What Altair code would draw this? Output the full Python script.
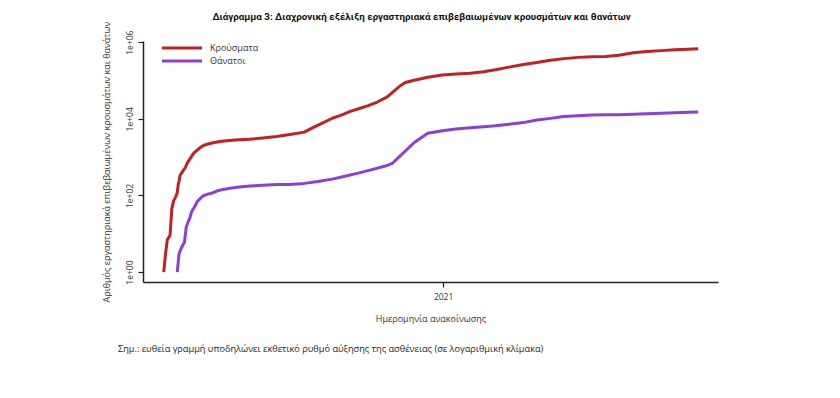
import altair as alt
import pandas as pd

# ---- data ----
case_dates = ["2020-02-26", "2020-02-28", "2020-03-01", "2020-03-04", "2020-03-06", "2020-03-08",
              "2020-03-10", "2020-03-12", "2020-03-13", "2020-03-14", "2020-03-15", "2020-03-17",
              "2020-03-19", "2020-03-21", "2020-03-23", "2020-03-25", "2020-03-27", "2020-03-29",
              "2020-03-31", "2020-04-05", "2020-04-10", "2020-04-15", "2020-04-22", "2020-04-30",
              "2020-05-15", "2020-05-31", "2020-06-15", "2020-06-30", "2020-07-15", "2020-07-31",
              "2020-08-10", "2020-08-20", "2020-08-31", "2020-09-10", "2020-09-20", "2020-09-30",
              "2020-10-10", "2020-10-20", "2020-10-31", "2020-11-05", "2020-11-10", "2020-11-15",
              "2020-11-20", "2020-11-30", "2020-12-15", "2020-12-31", "2021-01-15", "2021-01-31",
              "2021-02-15", "2021-02-28", "2021-03-15", "2021-03-31", "2021-04-15", "2021-04-30",
              "2021-05-15", "2021-05-31", "2021-06-15", "2021-06-30", "2021-07-15", "2021-07-31",
              "2021-08-15", "2021-08-31", "2021-09-15", "2021-09-30", "2021-10-11"]
case_values = [1, 3, 7, 9, 45, 73,
               89, 117, 190, 228, 331, 387,
               464, 530, 695, 821, 966, 1156,
               1314, 1673, 2011, 2192, 2401, 2591,
               2788, 2917, 3148, 3432, 3910, 4477,
               5942, 7684, 10317, 12452, 15595, 18475,
               21947, 27334, 37196, 46892, 59000, 74205,
               88000, 101287, 121031, 138850, 147000, 154796,
               169000, 190000, 223000, 260000, 295000, 338000,
               371000, 400000, 415000, 423000, 453000, 525000,
               572000, 600000, 630000, 652000, 672000]

death_dates = ["2020-03-12", "2020-03-14", "2020-03-16", "2020-03-18", "2020-03-20", "2020-03-22",
               "2020-03-24", "2020-03-26", "2020-03-28", "2020-03-31", "2020-04-03", "2020-04-06",
               "2020-04-10", "2020-04-15", "2020-04-20", "2020-04-25", "2020-04-30", "2020-05-15",
               "2020-05-31", "2020-06-15", "2020-06-30", "2020-07-15", "2020-07-31", "2020-08-15",
               "2020-08-31", "2020-09-15", "2020-09-30", "2020-10-15", "2020-10-31", "2020-11-06",
               "2020-11-15", "2020-11-30", "2020-12-15", "2020-12-31", "2021-01-15", "2021-01-31",
               "2021-02-15", "2021-02-28", "2021-03-15", "2021-03-31", "2021-04-15", "2021-04-30",
               "2021-05-15", "2021-05-31", "2021-06-15", "2021-06-30", "2021-07-15", "2021-07-31",
               "2021-08-15", "2021-08-31", "2021-09-15", "2021-09-30", "2021-10-11"]
death_values = [1, 3, 4, 5, 6, 15,
                20, 26, 38, 49, 68, 81,
                98, 108, 116, 130, 140, 160,
                175, 184, 192, 193, 206, 230,
                266, 322, 388, 477, 603, 700,
                1106, 2406, 4172, 4838, 5387, 5864,
                6225, 6604, 7200, 7944, 9300, 10242,
                11400, 12024, 12500, 12710, 12800, 13100,
                13500, 13900, 14300, 14800, 15000]

series_names = ["Κρούσματα", "Θάνατοι"]
series_colors = ["#C41F24", "#8E3ED4"]
y_tick_values = [1, 100, 10000, 1000000]

title_text = "Διάγραμμα 3: Διαχρονική εξέλιξη εργαστηριακά επιβεβαιωμένων κρουσμάτων και θανάτων"
y_title = "Αριθμός εργαστηριακά επιβεβαιωμένων κρουσμάτων και θανάτων"
x_title = "Ημερομηνία ανακοίνωσης"
note_text = "Σημ.: ευθεία γραμμή υποδηλώνει εκθετικό ρυθμό αύξησης της ασθένειας (σε λογαριθμική κλίμακα)"

df = pd.concat([
    pd.DataFrame({"date": case_dates, "value": case_values, "series": series_names[0]}),
    pd.DataFrame({"date": death_dates, "value": death_values, "series": series_names[1]}),
], ignore_index=True)

W, H = 575, 241
FONT = "Open Sans"

lines = alt.Chart(df).mark_line(strokeWidth=3, strokeJoin="round").encode(
    x=alt.X("date:T",
            scale=alt.Scale(domain=[alt.DateTime(year=2020, month=2, date=3),
                                    alt.DateTime(year=2021, month=11, date=2)]),
            axis=alt.Axis(values=[alt.DateTime(year=2021, month=1, date=1)], format="%Y",
                          title=x_title, grid=False, labelPadding=5, titlePadding=14)),
    y=alt.Y("value:Q",
            scale=alt.Scale(type="log", domain=[0.55, 1070000]),
            axis=alt.Axis(values=y_tick_values, grid=False, labelAngle=-90,
                          labelAlign="center", labelBaseline="bottom", labelPadding=4,
                          labelExpr="'1e+0' + format(round(log(datum.value)/LN10), 'd')",
                          title=y_title, titlePadding=14)),
    color=alt.Color("series:N", scale=alt.Scale(domain=series_names, range=series_colors),
                    legend=None),
    detail="series:N",
)

legend_layers = []
for i, (name, col) in enumerate(zip(series_names, series_colors)):
    legend_layers.append(
        alt.Chart(pd.DataFrame({"s": [name]})).mark_rule(strokeWidth=3, color=col).encode(
            x=alt.value(19), x2=alt.value(59), y=alt.value(7 + 13 * i)))
    legend_layers.append(
        alt.Chart(pd.DataFrame({"s": [name]})).mark_text(
            align="left", baseline="middle", font=FONT, fontSize=9, color="#333333").encode(
            x=alt.value(67), y=alt.value(7 + 13 * i), text="s:N"))

title = alt.Chart(pd.DataFrame({"t": [title_text]})).mark_text(
    align="center", baseline="middle", font="Roboto",
    fontSize=9.8, fontWeight="bold", color="#111111").encode(
    x=alt.value(W / 2 - 9), y=alt.value(-24), text="t:N")

note = alt.Chart(pd.DataFrame({"t": [note_text]})).mark_text(
    align="left", baseline="middle", font=FONT, fontSize=9.2, color="#222222").encode(
    x=alt.value(-25), y=alt.value(H + 67), text="t:N")

chart = alt.layer(lines, *legend_layers, title, note).properties(
    width=W, height=H,
    autosize=alt.AutoSizeParams(type="none"),
    padding={"left": 135, "top": 33, "right": 114, "bottom": 108},
).configure_view(stroke=None).configure_axis(
    domainColor="#222222", domainWidth=1.5, tickColor="#222222", tickWidth=1.2, tickSize=5,
    labelFont=FONT, labelFontSize=8.5, labelColor="#333333",
    titleFont=FONT, titleFontSize=9, titleFontWeight="normal", titleColor="#333333",
)

chart.save("out.html", embed_options={"renderer": "svg", "actions": False})
